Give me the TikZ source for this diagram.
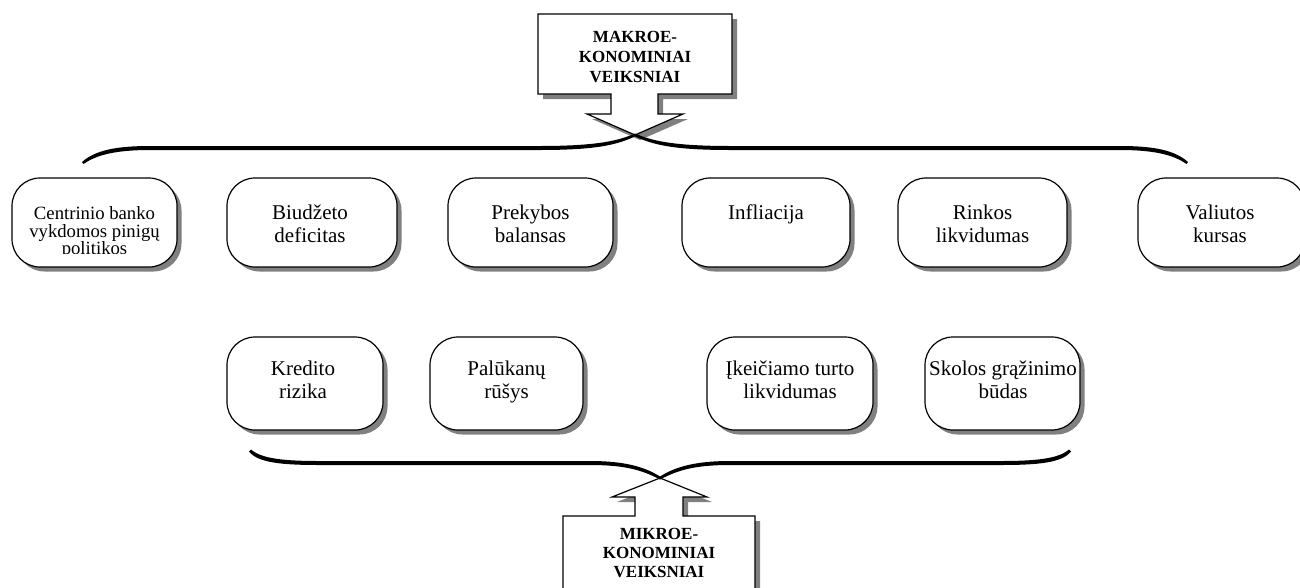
\documentclass[tikz,border=0pt]{standalone}
\usepackage{fontspec}
\setmainfont{Liberation Serif}
\usetikzlibrary{shadows}
\begin{document}
\begin{tikzpicture}[x=1pt,y=-1pt,
  fbox/.style={draw, line width=1.2pt, fill=white, rounded corners=28pt, inner sep=0pt,
     drop shadow={shadow xshift=4.5pt, shadow yshift=-4.5pt, fill=black!50, opacity=1}},
  toprow/.style={fbox, minimum height=89pt},
  botrow/.style={fbox, minimum height=93pt},
  txt/.style={font=\fontsize{21}{23}\selectfont, align=center, inner sep=0pt, anchor=north},
  btxt/.style={font=\bfseries\fontsize{17}{20}\selectfont, align=center, inner sep=0pt, anchor=north},
  outline/.style={draw, line width=1.2pt, fill=white, line join=miter},
  shadowfill/.style={fill=black!50},
  bracefill/.style={fill=black}
]
\clip (0,0) rectangle (1300,587);
\fill[white] (0,0) rectangle (1300,587);

% top callout
\fill[shadowfill, shift={(5,5)}] (538,14) -- (732,14) -- (732,94) -- (658,94) -- (658,114) -- (683,114) -- (635,135) -- (587,114) -- (611,114) -- (611,94) -- (538,94) -- cycle;
\draw[outline] (538,14) -- (732,14) -- (732,94) -- (658,94) -- (658,114) -- (683,114) -- (635,135) -- (587,114) -- (611,114) -- (611,94) -- (538,94) -- cycle;
\node[btxt] (mak) at (635,29) {\rule{0pt}{13pt}MAKROE-\\KONOMINIAI\\VEIKSNIAI};

% top brace
\fill[bracefill] (82,162) .. controls (95,150.5) and (115,146) .. (150,146) -- (540,146) .. controls (600,146) and (620,140) .. (635,133.5) -- (635,136.5) .. controls (618,144) and (600,150) .. (540,150) -- (150,150) .. controls (117,150) and (97,154.5) .. (83.5,164) -- cycle;
\fill[bracefill] (1188,162) .. controls (1175,150.5) and (1155,146) .. (1120,146) -- (730,146) .. controls (670,146) and (650,140) .. (635,133.5) -- (635,136.5) .. controls (652,144) and (670,150) .. (730,150) -- (1120,150) .. controls (1153,150) and (1173,154.5) .. (1186.5,164) -- cycle;

% bottom callout
\fill[shadowfill, shift={(5,5)}] (563,600) -- (563,516) -- (635,516) -- (635,497) -- (612,497) -- (660,478) -- (707,497) -- (683,497) -- (683,516) -- (755,516) -- (755,600) -- cycle;
\draw[outline] (563,600) -- (563,516) -- (635,516) -- (635,497) -- (612,497) -- (660,478) -- (707,497) -- (683,497) -- (683,516) -- (755,516) -- (755,600) -- cycle;
\node[btxt, font=\bfseries\fontsize{17}{19}\selectfont] (mik) at (659,526) {\rule{0pt}{13pt}MIKROE-\\KONOMINIAI\\VEIKSNIAI};

% bottom brace
\fill[bracefill] (251,449.5) .. controls (262,459) and (285,461) .. (320,461) -- (590,461) .. controls (625,461) and (645,467) .. (660,476.5) -- (660,479.5) .. controls (642,470) and (625,465) .. (590,465) -- (320,465) .. controls (283,465) and (258,463) .. (249,451.5) -- cycle;
\fill[bracefill] (1069,449.5) .. controls (1058,459) and (1035,461) .. (1000,461) -- (730,461) .. controls (695,461) and (675,467) .. (660,476.5) -- (660,479.5) .. controls (678,470) and (695,465) .. (730,465) -- (1000,465) .. controls (1037,465) and (1062,463) .. (1071,451.5) -- cycle;

% top row boxes
\node[toprow, minimum width=165pt] (n1) at (94.5,222.5) {};
\node[toprow, minimum width=170pt] (n2) at (312,222.5) {};
\node[toprow, minimum width=165pt] (n3) at (530.5,222.5) {};
\node[toprow, minimum width=168pt] (n4) at (766,222.5) {};
\node[toprow, minimum width=169pt] (n5) at (982.5,222.5) {};
\node[toprow, minimum width=167pt] (n6) at (1221.5,222.5) {};

\begin{scope}
\clip (12,180) rectangle (177,253);
\node[txt, font=\fontsize{18.7}{17.5}\selectfont] (t1) at (94.5,205.5) {\rule{0pt}{14pt}Centrinio banko\\vykdomos pinigų\\politikos};
\end{scope}
\node[txt] (t2) at (310,204) {\rule{0pt}{15pt}Biudžeto\\deficitas};
\node[txt] (t3) at (530.5,204) {\rule{0pt}{15pt}Prekybos\\balansas};
\node[txt] (t4) at (766,204) {\rule{0pt}{15pt}Infliacija};
\node[txt] (t5) at (982.5,204) {\rule{0pt}{15pt}Rinkos\\likvidumas};
\node[txt] (t6) at (1220,204) {\rule{0pt}{15pt}Valiutos\\kursas};

% bottom row boxes
\node[botrow, minimum width=156pt] (m1) at (305,383.5) {};
\node[botrow, minimum width=153pt] (m2) at (506.5,383.5) {};
\node[botrow, minimum width=166pt] (m3) at (790,383.5) {};
\node[botrow, minimum width=155pt] (m4) at (1002.5,383.5) {};

\node[txt] (s1) at (303,360) {\rule{0pt}{15pt}Kredito\\rizika};
\node[txt] (s2) at (506.5,360) {\rule{0pt}{15pt}Palūkanų\\rūšys};
\node[txt] (s3) at (790,360) {\rule{0pt}{15pt}Įkeičiamo turto\\likvidumas};
\node[txt] (s4) at (1003,360) {\rule{0pt}{15pt}Skolos grąžinimo\\būdas};
\end{tikzpicture}
\end{document}
